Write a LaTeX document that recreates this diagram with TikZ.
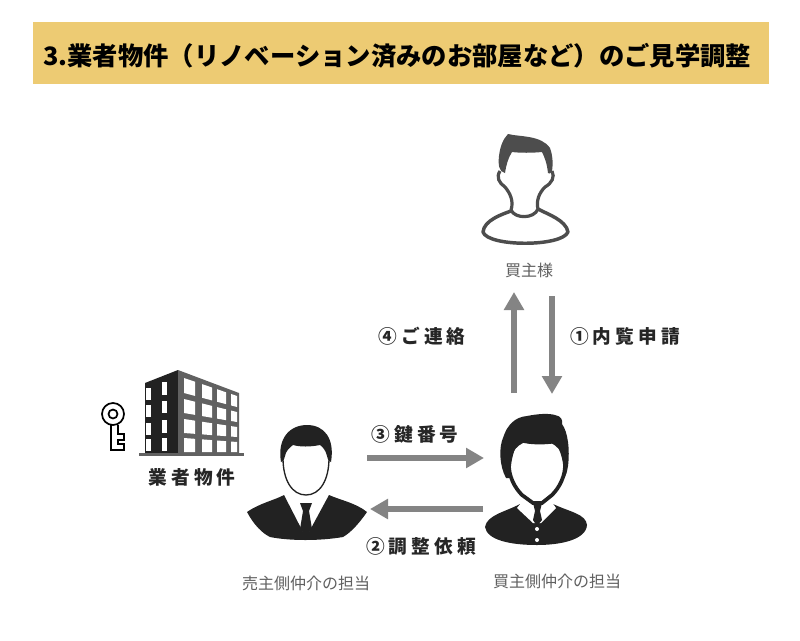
\documentclass[tikz,border=0pt]{standalone}
\usepackage{fontspec}
\setmainfont{Noto Sans CJK JP}
\newfontfamily\stepfont[LetterSpace=22]{Noto Sans CJK JP}
\usetikzlibrary{arrows.meta}
\definecolor{bannerfill}{HTML}{EDCB73}
\definecolor{arrowgray}{HTML}{848484}
\definecolor{icondark}{HTML}{222222}
\definecolor{outlinegray}{HTML}{4D4D4D}
\definecolor{capgray}{HTML}{606060}
\tikzset{
  px/.style={x=0.75pt,y=-0.75pt},
  caption/.style={inner sep=0pt,text=capgray,font=\fontsize{12pt}{14pt}\selectfont},
  steplabel/.style={inner sep=0pt,text=black!85,font=\stepfont\bfseries\fontsize{14pt}{16pt}\selectfont},
  flowarrow/.style={draw=arrowgray,line width=4.6pt,-{Triangle[length=13.5pt,width=14.5pt]}}
}
\begin{document}
\begin{tikzpicture}[px]
    \useasboundingbox (0,0) rectangle (800,640);
    \fill[white] (0,0) rectangle (800,640);
    \fill[bannerfill] (33,22) rectangle (769,84);
    \node[inner sep=0pt,anchor=west,font=\bfseries\fontsize{19pt}{22pt}\selectfont] (title) at (43,56) {3.業者物件（リノベーション済みのお部屋など）のご見学調整};
    % buyer, outline
    \draw[outlinegray,line width=2.6pt,line join=round] (511,211) .. controls (503,214) and (484,220) .. (483,232) .. controls (488,247) and (562,247) .. (568,232) .. controls (566,220) and (547,214) .. (538,209);
    \draw[outlinegray,line width=2.4pt] (511,210) .. controls (515,219) and (534,219) .. (538,209);
    \draw[outlinegray,line width=2.4pt] (500,171) .. controls (496,177) and (499,183) .. (505,187) .. controls (510,193) and (514,201) .. (511,210);
    \draw[outlinegray,line width=2.4pt] (552,171) .. controls (555,177) and (552,183) .. (545,187) .. controls (539,193) and (536,201) .. (538,209);
    \fill[outlinegray] (505,173) .. controls (499,172) and (498,165) .. (499,156) .. controls (500,147) and (503,139) .. (508,134) .. controls (520,137) and (541,135) .. (550,148) .. controls (553,156) and (553,165) .. (552,171) .. controls (550,174) and (549,174) .. (548,173) .. controls (547,164) and (545,158) .. (542,152) .. controls (532,153) and (520,153) .. (512,152) .. controls (508,158) and (506,166) .. (505,173) -- cycle;
    \node[caption] (buyer) at (529,270) {買主様};
    % building
    \fill[icondark] (145,383) -- (178,370) -- (178,453) -- (145,453) -- cycle;
    \fill[black!62] (178,370) -- (239,393) -- (239,453) -- (178,453) -- cycle;
    \foreach \y/\h in {388/12,405/12,423/12,439/12}
      \fill[white] (146,\y) rectangle ++(5,\h);
    \foreach \y/\h in {382/13,401/12,420/13,438/13}
      \fill[white] (162,\y) rectangle ++(5,\h);
    \foreach \x/\w in {184/11,202/10,217/9,231/6}
      \foreach \ta/\tb/\ba/\bb in {378/396/393/407,399/412/413/422,419/427/433/437,438/442/452/452}
        \fill[white] (\x,{\ta+(\tb-\ta)*(\x-184)/53}) -- ({\x+\w},{\ta+(\tb-\ta)*(\x+\w-184)/53}) -- ({\x+\w},{\ba+(\bb-\ba)*(\x+\w-184)/53}) -- (\x,{\ba+(\bb-\ba)*(\x-184)/53}) -- cycle;
    \fill[black!62] (139,453) rectangle (244,456);
    % key
    \draw[black,line width=1.3pt] (113,414) circle (11);
    \draw[black,line width=1.3pt] (113,414) circle (4.5);
    \draw[black,line width=1.3pt] (111,425) -- (111,450) -- (124,450) -- (124,444) -- (118,444) -- (118,440) -- (124,440) -- (124,434) -- (118,434) -- (118,425);
    \node[steplabel] (company) at (192,477) {業者物件};
    % seller
    \fill[icondark] (247,512) .. controls (260,503) and (275,500) .. (284,495) -- (303,532) -- (309,532) -- (329,495) .. controls (340,500) and (356,503) .. (367,512) .. controls (358,525) and (350,533) .. (343,537) .. controls (320,541) and (290,541) .. (270,537) .. controls (262,533) and (254,525) .. (247,512) -- cycle;
    \fill[icondark] (300,503) -- (312,503) -- (309,511) -- (312,529) -- (306,536) -- (300,529) -- (303,511) -- cycle;
    \draw[icondark,line width=1pt,fill=white] (283,458) .. controls (283,480) and (292,495) .. (306,495) .. controls (320,495) and (329,480) .. (329,458) .. controls (329,430) and (283,430) .. (283,458) -- cycle;
    \fill[icondark] (281,462) .. controls (277,438) and (290,425) .. (307,425) .. controls (324,425) and (335,438) .. (331,462) .. controls (329,462) and (328,460) .. (327,456) .. controls (326,451) and (323,447) .. (320,445) .. controls (310,447) and (300,447) .. (293,445) .. controls (289,448) and (286,451) .. (285,456) .. controls (284,460) and (283,462) .. (281,462) -- cycle;
    \node[caption] (seller) at (306,583) {売主側仲介の担当};
    % agent
    \fill[icondark] (485,527) .. controls (487,515) and (505,512) .. (520,504) -- (553,504) .. controls (570,512) and (586,514) .. (587,525) .. controls (586,540) and (560,545) .. (537,545) .. controls (510,545) and (487,540) .. (485,527) -- cycle;
    \fill[white] (517,508) -- (525,498) -- (549,498) -- (556,508) -- (541,523) -- (533,523) -- cycle;
    \fill[icondark] (533,503) -- (542,503) -- (540,511) -- (542,520) -- (537,526) -- (533,520) -- (535,511) -- cycle;
    \fill[white] (537,529) circle (2);
    \fill[white] (537,540) circle (2);
    \draw[icondark,line width=2.8pt,fill=white] (509,462) .. controls (508,476) and (515,488) .. (522,495) -- (533,503) -- (542,503) -- (552,495) .. controls (559,488) and (566,476) .. (565,462) .. controls (565,430) and (509,430) .. (509,462) -- cycle;
    \fill[icondark] (506,478) .. controls (499,465) and (499,447) .. (503,438) .. controls (507,425) and (515,417) .. (527,416) .. controls (537,414) and (548,413) .. (555,415) .. controls (561,416) and (563,420) .. (562,424) .. controls (568,432) and (570,450) .. (568,466) .. controls (567,472) and (566,476) .. (564,478) .. controls (564,462) and (561,452) .. (556,443) .. controls (545,445) and (530,445) .. (520,442) .. controls (514,447) and (511,458) .. (510,478) -- cycle;
    \node[caption] (agent) at (557,581) {買主側仲介の担当};
    % arrows
    \coordinate (upa) at (514,393);
    \coordinate (upb) at (514,292);
    \coordinate (dna) at (552,296);
    \coordinate (dnb) at (552,394);
    \coordinate (ra) at (367,458);
    \coordinate (rb) at (484,458);
    \coordinate (la) at (483,509);
    \coordinate (lb) at (370,509);
    \draw[flowarrow] (upa) -- (upb);
    \draw[flowarrow] (dna) -- (dnb);
    \draw[flowarrow] (ra) -- (rb);
    \draw[flowarrow] (la) -- (lb);
    \node[steplabel] (contact) at (422,336) {④ご連絡};
    \node[steplabel] (request) at (625,336) {①内覧申請};
    \node[steplabel] (keyno) at (415,434) {③鍵番号};
    \node[steplabel] (adjust) at (421,546) {②調整依頼};
\end{tikzpicture}
\end{document}
